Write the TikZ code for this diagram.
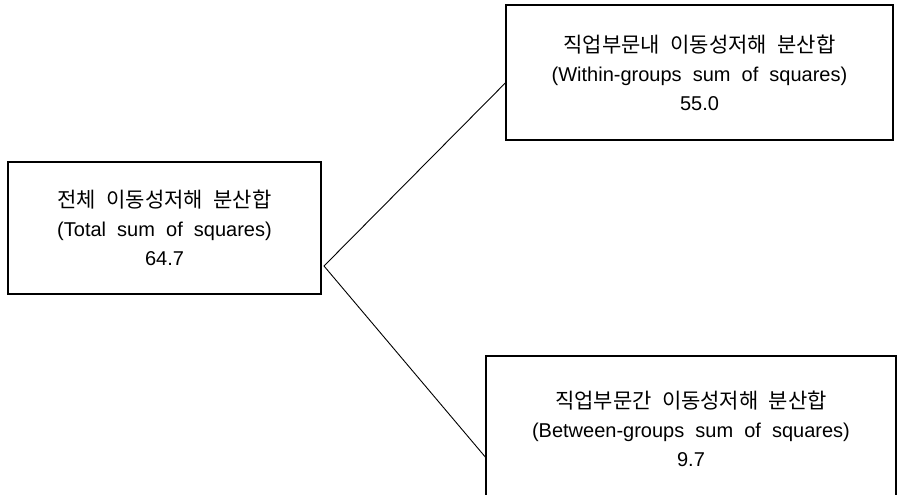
\documentclass[tikz,border=0pt]{standalone}
\usepackage{fontspec}
\setmainfont[WordSpace=2]{Liberation Sans}
\newfontfamily\kr[WordSpace=2.2]{Noto Sans CJK KR}
\newcommand{\krtext}[1]{{\kr\fontsize{21}{29}\selectfont #1}}
\begin{document}
\begin{tikzpicture}[x=1pt,y=-1pt]
	\tikzstyle{box}=[rectangle,draw=black,line width=1.4pt,align=center,inner sep=0pt,font=\fontsize{20}{29}\selectfont]
	\tikzstyle{edge}=[draw,line width=0.9pt]
	\useasboundingbox (0,0) rectangle (900,495);
	\begin{scope}
		\node [box,minimum width=313pt,minimum height=132pt] (total) at (164.5,228) {\krtext{전체 이동성저해 분산합}\\(Total sum of squares)\\64.7};
		\node [box,minimum width=387pt,minimum height=135pt] (within) at (699.5,72.5) {\krtext{직업부문내 이동성저해 분산합}\\(Within-groups sum of squares)\\55.0};
		\node [box,minimum width=410pt,minimum height=146pt] (between) at (691,429) {\krtext{직업부문간 이동성저해 분산합}\\(Between-groups sum of squares)\\9.7};
		\coordinate (fork) at (324,266);
		\coordinate (within in) at ([yshift=-10.5pt]within.west);
		\coordinate (between in) at ([yshift=-28pt]between.west);
		\path[edge] (within in) -- (fork) -- (between in);
	\end{scope}
\end{tikzpicture}
\end{document}
